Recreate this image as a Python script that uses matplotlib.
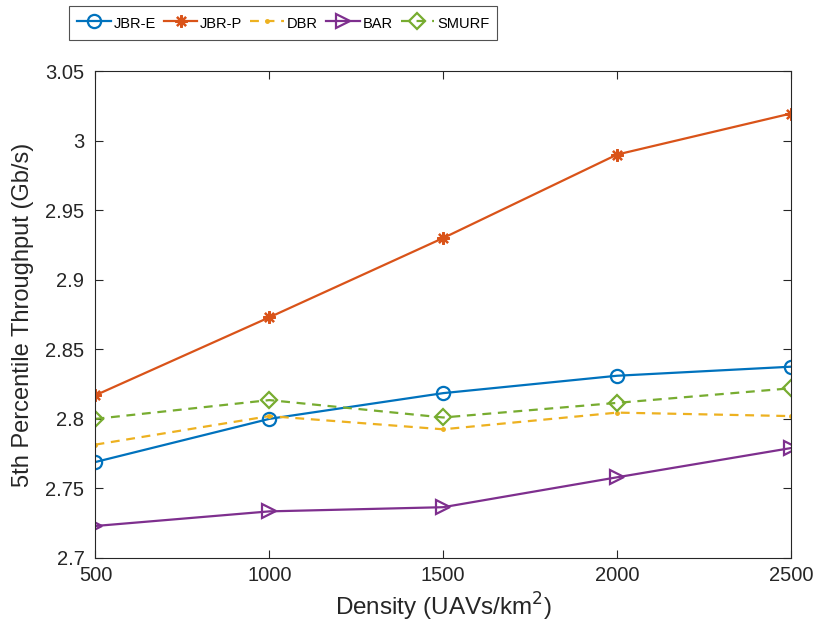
import matplotlib
matplotlib.use("Agg")
import matplotlib.pyplot as plt
from matplotlib.ticker import FuncFormatter

plt.rcParams['font.family'] = ['Liberation Sans', 'DejaVu Sans']

density = [500, 1000, 1500, 2000, 2500]
jbr_e = [2.769, 2.800, 2.8185, 2.831, 2.8375]
jbr_p = [2.817, 2.873, 2.930, 2.990, 3.0195]
dbr = [2.7815, 2.802, 2.7925, 2.8045, 2.802]
bar = [2.723, 2.7335, 2.7365, 2.758, 2.779]
smurf = [2.800, 2.8135, 2.801, 2.8115, 2.822]
yticks = [2.7, 2.75, 2.8, 2.85, 2.9, 2.95, 3.0, 3.05]

fig = plt.figure(figsize=(8.19, 6.35), dpi=100)
ax = fig.add_axes([0.1166, 0.1213, 0.849, 0.7667])

lw = 1.6
ax.plot(density, jbr_e, color='#0072BD', lw=lw, marker='o', ms=9.5, mfc='none', mew=1.6, label='JBR-E')
ax.plot(density, jbr_p, color='#D95319', lw=lw, marker=(8, 2, 0), ms=9, mew=1.6, label='JBR-P')
ax.plot(density, dbr, color='#EDB120', lw=lw, ls=(0, (4, 3)), marker='.', ms=5, label='DBR')
ax.plot(density, bar, color='#7E2F8E', lw=lw, marker='>', ms=10.5, mfc='none', mew=1.6, label='BAR')
ax.plot(density, smurf, color='#77AC30', lw=lw, ls=(0, (4, 3)), marker='D', ms=8.5, mfc='none', mew=1.6, label='SMURF')

ax.set_xlim(500, 2500)
ax.set_ylim(2.7, 3.05)
ax.set_xticks(density)
ax.set_yticks(yticks)
ax.yaxis.set_major_formatter(FuncFormatter(lambda v, p: '%g' % round(v, 2)))
ax.tick_params(direction='in', top=True, right=True, labelsize=14.5, colors='#262626', length=6, width=0.8)
ax.tick_params(axis='x', pad=6)
ax.tick_params(axis='y', pad=8)
for s in ax.spines.values():
    s.set_color('#262626')
    s.set_linewidth(0.8)

ax.set_xlabel('Density (UAVs/km$^2$)', fontsize=17.5, color='#262626', labelpad=4)
ax.set_ylabel('5th Percentile Throughput (Gb/s)', fontsize=17, color='#262626', labelpad=8)

leg = fig.legend(loc='upper left', bbox_to_anchor=(69 / 819, 1 - 6 / 635), ncol=5, fontsize=10.5,
                 frameon=True, fancybox=False, edgecolor='#262626', handlelength=2.3,
                 handleheight=1.5, columnspacing=0.55, handletextpad=0.2, borderpad=0.55,
                 borderaxespad=0)
leg.get_frame().set_linewidth(0.8)

fig.savefig('out.png', dpi=100)
